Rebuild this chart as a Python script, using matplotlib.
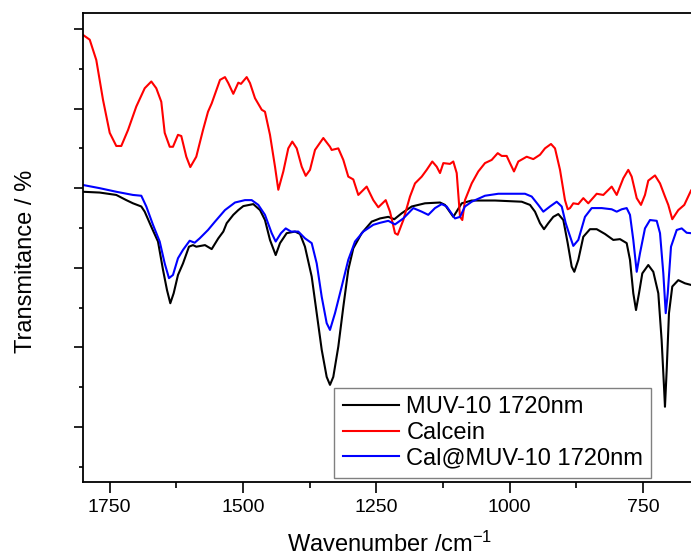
import matplotlib
matplotlib.use("Agg")
import matplotlib.pyplot as plt
from matplotlib.ticker import MultipleLocator, NullFormatter

plt.rcParams['font.family'] = ['Liberation Sans', 'DejaVu Sans']
plt.rcParams['mathtext.default'] = 'regular'

# spectres (nombre d'onde en cm-1, transmittance en u.a.)
wn_calcein = [1800, 1787.4, 1775.1, 1762.5, 1749.9, 1737.6, 1728.2, 1715.6, 1700.1, 1684.3,
              1671.9, 1662.6, 1653.2, 1646.8, 1637.4, 1631.3, 1621.9, 1615.7, 1606.3, 1598.8,
              1587.6, 1575, 1565.6, 1558.7, 1543.1, 1533.8, 1527.6, 1518.2, 1508.8, 1503.8,
              1493.1, 1486.9, 1477.5, 1464.9, 1458.8, 1449.4, 1440, 1433.8, 1424.4, 1415.1,
              1407.6, 1399.3, 1389.9, 1382.4, 1374.4, 1365, 1349.4, 1336.9, 1333.7, 1321.3,
              1311.9, 1302.6, 1293.2, 1283.8, 1268.1, 1255.7, 1246.3, 1232.4, 1224.4, 1215,
              1209.9, 1199.4, 1186.9, 1177.5, 1164.9, 1155.6, 1145.1, 1136.8, 1130.6, 1124.4,
              1111.9, 1105.7, 1099.3, 1093.1, 1088.8, 1083.8, 1071.2, 1058.8, 1046.3, 1033.7,
              1022.4, 1014.9, 1005.6, 999.4, 991.9, 983.8, 968.1, 955.7, 943.1, 933.8,
              922.5, 915, 905.6, 896.3, 891.2, 886.9, 880.7, 871.3, 861.9, 852.6,
              836.8, 824.4, 808.7, 799.3, 786.9, 777.6, 771.2, 761.8, 753.8, 746.3,
              740.1, 727.5, 718.1, 708.8, 702.6, 695.1, 683.8, 672.6, 660]
t_calcein = [118.5, 117.3, 112.2, 102.2, 93.9, 90.6, 90.6, 94.6, 100.5, 105.1,
             106.8, 105.1, 101.7, 93.9, 90.4, 90.4, 93.4, 93.1, 87.9, 85.3,
             87.9, 94.6, 99.2, 101.3, 107.2, 107.9, 106.4, 103.7, 106.5, 106.2,
             107.9, 106.4, 102.6, 99.7, 99.2, 93.4, 85.4, 79.6, 84.2, 90.0,
             91.7, 90.0, 85.4, 83.1, 84.6, 89.6, 92.6, 90.4, 89.6, 90.0,
             87.1, 82.9, 82.2, 78.3, 80.4, 77.0, 75.2, 77.0, 74.1, 68.7,
             68.3, 72.0, 77.9, 81.2, 82.9, 84.6, 86.7, 85.4, 83.8, 86.3,
             86.1, 86.7, 83.8, 72.8, 72.0, 77.0, 81.2, 84.2, 86.3, 87.1,
             88.8, 88.1, 88.1, 86.3, 84.2, 86.7, 87.9, 87.3, 88.4, 90.0,
             91.1, 90.0, 84.6, 77.0, 74.7, 75.0, 76.2, 76.0, 77.5, 76.2,
             78.6, 78.3, 80.4, 78.3, 82.5, 84.6, 82.9, 77.5, 75.8, 78.3,
             81.9, 83.2, 81.2, 77.9, 75.8, 72.2, 74.5, 75.8, 79.4]

wn_muv = [1800, 1768.7, 1737.6, 1718.8, 1706.3, 1690.7, 1684.3, 1671.9, 1659.4, 1650,
          1642.5, 1636.3, 1630, 1621.9, 1612.5, 1601.3, 1593.8, 1587.6, 1571.3, 1558.7,
          1546.3, 1536.9, 1530.6, 1518.2, 1508.8, 1499.4, 1480.7, 1468.1, 1458.8, 1449.4,
          1438.7, 1430.6, 1418.1, 1402.5, 1393.1, 1383.8, 1371.2, 1361.8, 1352.4, 1343.1,
          1336.9, 1330.7, 1321.3, 1311.9, 1302.6, 1293.2, 1277.4, 1258.7, 1243.1, 1227.6,
          1216.3, 1202.4, 1183.7, 1158.8, 1130.6, 1121.3, 1105.7, 1089.9, 1071.2, 1027.5,
          977.4, 961.9, 952.5, 943.1, 935.6, 927.6, 918.2, 908.8, 899.4, 891.2,
          883.7, 878.8, 871.3, 861.9, 849.4, 836.8, 821.3, 805.7, 793.1, 780.6,
          774.4, 768.2, 763.1, 757.5, 751.3, 740.1, 730.7, 721.3, 715.1, 710.6,
          708.8, 705.6, 701.3, 695.1, 683.8, 671.3, 660]
t_muv = [79.1, 78.9, 78.3, 77.0, 76.2, 75.4, 74.1, 70.3, 66.6, 59.5,
         54.4, 51.1, 53.6, 58.2, 61.1, 65.3, 65.7, 65.3, 65.7, 64.7,
         67.4, 69.1, 71.2, 73.3, 74.5, 75.5, 76.0, 74.5, 72.0, 67.0,
         63.2, 66.2, 68.7, 69.1, 68.5, 65.3, 57.8, 48.6, 39.4, 32.6,
         30.6, 32.6, 40.2, 50.2, 59.5, 64.9, 68.7, 71.6, 72.4, 72.8,
         72.2, 73.7, 75.4, 76.2, 76.4, 75.8, 72.8, 76.2, 76.9, 76.9,
         76.6, 75.8, 74.1, 71.2, 69.7, 71.2, 72.8, 73.5, 72.0, 66.2,
         60.3, 59.0, 62.0, 67.8, 69.7, 69.7, 68.5, 67.0, 67.2, 66.2,
         62.0, 53.6, 49.4, 53.6, 58.6, 60.7, 59.0, 53.6, 41.9, 30.1,
         25.1, 34.3, 48.6, 55.3, 56.9, 56.1, 55.7]

wn_cal_muv = [1800, 1768.7, 1737.6, 1706.3, 1690.7, 1681.3, 1668.8, 1656.2, 1646.8, 1638.8,
              1631.3, 1621.9, 1612.5, 1600, 1590.6, 1581.2, 1565.6, 1552.5, 1533.8, 1515,
              1496.3, 1483.7, 1471.3, 1458.8, 1446.2, 1438.7, 1428.8, 1419.9, 1410, 1396.3,
              1383.8, 1371.2, 1361.8, 1352.4, 1343.1, 1336.9, 1327.5, 1314.9, 1302.6, 1290,
              1274.4, 1255.7, 1243.1, 1227.6, 1215, 1199.4, 1180.7, 1164.9, 1152.6, 1140,
              1127.4, 1118.1, 1102.5, 1093.1, 1083.8, 1071.2, 1046.3, 1021.3, 971.3, 958.7,
              946.3, 936.9, 924.4, 911.8, 902.4, 894.9, 888.8, 880.7, 871.3, 858.8,
              846.2, 827.4, 808.7, 799.3, 789.9, 780.6, 774.4, 768.2, 761.8, 755.6,
              746.3, 736.9, 724.3, 718.1, 711.9, 707.4, 703.6, 697.5, 686.8, 677.4,
              668.1, 660]
t_cal_muv = [80.8, 80.0, 79.1, 78.3, 78.1, 75.4, 70.8, 66.6, 61.1, 57.4,
             58.2, 62.4, 64.5, 66.8, 66.3, 67.4, 69.5, 71.6, 74.5, 76.4,
             77.0, 77.0, 75.8, 73.3, 68.7, 66.6, 68.7, 69.9, 69.1, 69.1,
             67.4, 66.2, 61.1, 52.7, 46.1, 44.4, 48.6, 55.3, 62.0, 66.6,
             69.1, 70.8, 71.3, 71.8, 70.9, 72.4, 75.0, 74.1, 73.3, 75.0,
             76.0, 75.4, 72.4, 72.8, 75.4, 76.6, 78.1, 78.6, 78.6, 77.9,
             75.8, 74.1, 75.4, 76.6, 75.4, 71.2, 68.7, 65.5, 67.0, 72.8,
             75.0, 75.0, 74.7, 74.1, 74.7, 75.0, 73.3, 67.0, 59.0, 63.7,
             69.9, 72.0, 71.8, 68.7, 58.6, 48.6, 53.6, 65.3, 69.5, 69.9,
             68.8, 68.7]

fig = plt.figure(figsize=(6.91, 5.59), dpi=100)
ax = fig.add_axes([83/691, 1 - 482/559, 1 - 83/691, (482 - 13)/559])

ax.plot(wn_muv, t_muv, color='black', lw=1.5, label='MUV-10 1720nm')
ax.plot(wn_calcein, t_calcein, color='red', lw=1.5, label='Calcein')
ax.plot(wn_cal_muv, t_cal_muv, color='blue', lw=1.5, label='Cal@MUV-10 1720nm')

ax.set_xlim(1800, 660)
ax.set_ylim(6.2, 124)

ax.xaxis.set_major_locator(MultipleLocator(250))
ax.xaxis.set_minor_locator(MultipleLocator(125))
ax.yaxis.set_major_locator(MultipleLocator(20))
ax.yaxis.set_minor_locator(MultipleLocator(10))
ax.yaxis.set_major_formatter(NullFormatter())

ax.tick_params(axis='x', which='major', direction='out', length=8, width=1.2, labelsize=14, pad=4)
ax.tick_params(axis='x', which='minor', direction='out', length=4.5, width=1.2)
ax.tick_params(axis='y', which='major', direction='out', length=6.5, width=1.2)
ax.tick_params(axis='y', which='minor', direction='out', length=3.2, width=1.2)

for side in ['left', 'bottom', 'top']:
    ax.spines[side].set_linewidth(1.3)
ax.spines['right'].set_visible(False)

ax.set_xlabel(r'Wavenumber /cm$^{-1}$', fontsize=17)
ax.set_ylabel('Transmitance / %', fontsize=17)
ax.xaxis.set_label_coords(0.505, -0.105)
ax.yaxis.set_label_coords(-0.076, 0.47)

leg = ax.legend(loc='lower right', bbox_to_anchor=(0.935, 0.009), borderaxespad=0,
                fontsize=17, handlelength=2.4, handletextpad=0.3, labelspacing=0.15,
                borderpad=0.35, fancybox=False, framealpha=1)
leg.get_frame().set_edgecolor('#808080')
leg.get_frame().set_linewidth(1.0)

fig.savefig('out.png', dpi=100)
